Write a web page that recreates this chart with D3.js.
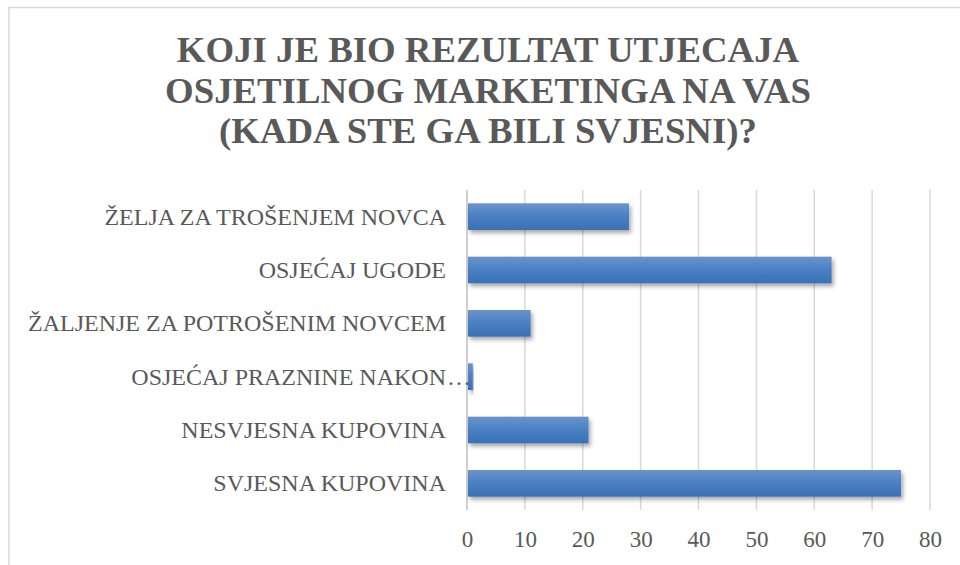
<!DOCTYPE html>
<html>
<head>
<meta charset="utf-8">
<script src="https://cdn.jsdelivr.net/npm/d3@7"></script>
<style>
  body { margin: 0; background: #fff; }
  svg { display: block; }
</style>
</head>
<body>
<div class="chart-container"></div>
<script>
const titleLines = ["KOJI JE BIO REZULTAT UTJECAJA", "OSJETILNOG MARKETINGA NA VAS", "(KADA STE GA BILI SVJESNI)?"];
const categories = [
    "ŽELJA ZA TROŠENJEM NOVCA",
    "OSJEĆAJ UGODE",
    "ŽALJENJE ZA POTROŠENIM NOVCEM",
    "OSJEĆAJ PRAZNINE NAKON…",
    "NESVJESNA KUPOVINA",
    "SVJESNA KUPOVINA"
];
const values = [28, 63, 11, 1, 21, 75];
const xTicks = [0, 10, 20, 30, 40, 50, 60, 70, 80];

const width = 960;
const height = 565;
const textColor = "#595959";
const serif = '"Liberation Serif"';

const svg = d3.select(".chart-container")
    .append("svg")
    .attr("width", width)
    .attr("height", height);

const defs = svg.append("defs");

const grad = defs.append("linearGradient")
    .attr("id", "bar-grad")
    .attr("x1", 0).attr("y1", 0)
    .attr("x2", 0).attr("y2", 1);
grad.append("stop").attr("offset", "0%").attr("stop-color", "#6a94cd");
grad.append("stop").attr("offset", "50%").attr("stop-color", "#4a7fc2");
grad.append("stop").attr("offset", "100%").attr("stop-color", "#3a70b6");

defs.append("filter")
    .attr("id", "bar-shadow")
    .attr("x", "-10%").attr("y", "-30%")
    .attr("width", "130%").attr("height", "190%")
    .append("feDropShadow")
    .attr("dx", 2)
    .attr("dy", 3)
    .attr("stdDeviation", 2)
    .attr("flood-color", "#000")
    .attr("flood-opacity", 0.35);

// chart border (runs off the right and bottom edge)
svg.append("rect")
    .attr("x", 9)
    .attr("y", 7.5)
    .attr("width", 958)
    .attr("height", 600)
    .attr("fill", "#fff")
    .attr("stroke", "#d9d9d9")
    .attr("stroke-width", 1.5);

svg.append("g")
    .attr("class", "title")
    .selectAll("text")
    .data(titleLines)
    .enter()
    .append("text")
    .attr("x", 488)
    .attr("y", (d, i) => 62 + i * 40.5)
    .attr("text-anchor", "middle")
    .style("font-family", serif)
    .style("font-weight", "bold")
    .style("font-size", "36.8px")
    .style("fill", textColor)
    .text(d => d);

const x = d3.scaleLinear()
    .domain([0, 80])
    .range([467, 930]);

const y = d3.scaleBand()
    .domain(categories)
    .range([190, 510])
    .paddingInner(0.5)
    .paddingOuter(0.25);

svg.append("g")
    .attr("class", "grid")
    .selectAll("line")
    .data(xTicks)
    .enter()
    .append("line")
    .attr("x1", d => x(d))
    .attr("x2", d => x(d))
    .attr("y1", 190)
    .attr("y2", 510)
    .attr("stroke", d => d === 0 ? "#bfbfbf" : "#d9d9d9")
    .attr("stroke-width", 1.5);

const xAxis = svg.append("g")
    .attr("class", "x-axis")
    .attr("transform", "translate(0,510)")
    .call(d3.axisBottom(x).tickValues(xTicks).tickSize(0).tickPadding(21));

xAxis.select(".domain").remove();
xAxis.selectAll("text")
    .style("font-family", serif)
    .style("font-size", "23px")
    .style("fill", textColor)
    .attr("dy", "0.71em");

svg.append("g")
    .attr("class", "bars")
    .selectAll("rect")
    .data(values)
    .enter()
    .append("rect")
    .attr("x", x(0) + 1)
    .attr("y", (d, i) => y(categories[i]))
    .attr("width", d => x(d) - x(0) - 1)
    .attr("height", y.bandwidth())
    .attr("fill", "url(#bar-grad)")
    .attr("filter", "url(#bar-shadow)");

const labels = svg.append("g").attr("class", "y-labels");

categories.forEach(c => {
    const cut = c.endsWith("…");
    const cy = y(c) + y.bandwidth() / 2;
    labels.append("text")
        .attr("x", 446)
        .attr("y", cy)
        .attr("dy", "0.34em")
        .attr("text-anchor", "end")
        .style("font-family", serif)
        .style("font-size", "24px")
        .style("fill", textColor)
        .text(cut ? c.slice(0, -1) : c);
    if (cut) {
        labels.append("text")
            .attr("x", 447)
            .attr("y", cy)
            .attr("dy", "0.34em")
            .style("font-family", serif)
            .style("font-size", "24px")
            .style("fill", textColor)
            .text("…");
    }
});
</script>
</body>
</html>
